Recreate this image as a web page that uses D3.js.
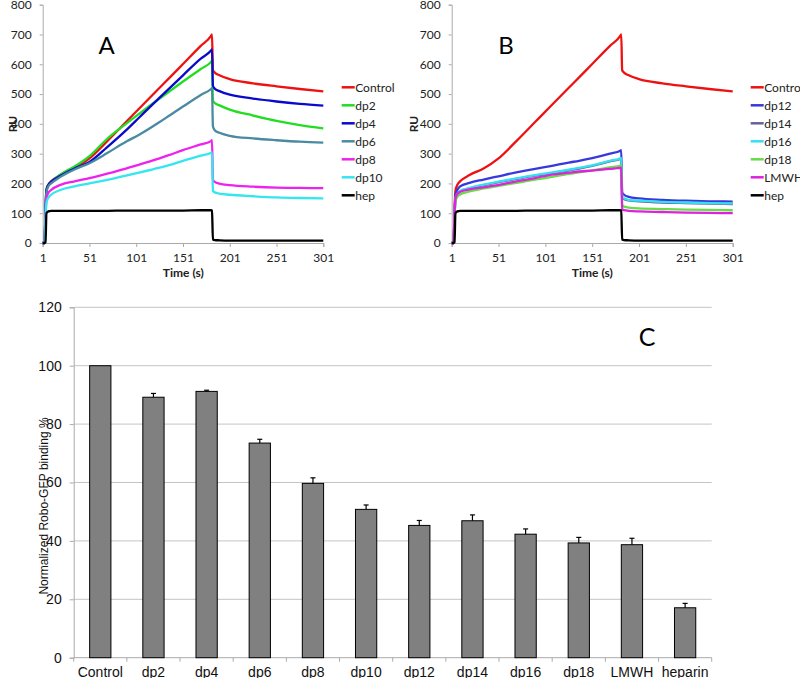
<!DOCTYPE html>
<html><head><meta charset="utf-8">
<script src="https://cdn.jsdelivr.net/npm/d3@7/dist/d3.min.js"></script>
<style>body{margin:0;background:#fff}svg{display:block}</style>
</head><body><svg id="c" width="800" height="678"></svg>
<script>
// ---------- SPR sensorgram data (time in s, response in RU) ----------
const times = [1,3,4,5,7,10,20,35,51,70,90,105,126,137,151,170,181,182,183,185,190,201,226,251,276,301];
const controlRU = [0,0,110,175,195,207,228,250,284,342,406,454,521,556,601,662,695,700,580,572,563,550,536,526,517,509];
const dp2RU  = [0,0,110,178,195,205,230,257,292,350,400,436,485,510,542,584,608,612,478,470,462,448,428,410,396,385];
const dp4RU  = [0,0,110,178,195,205,226,250,272,322,378,424,488,521,563,619,646,650,528,518,510,498,485,475,467,461];
const dp6RU  = [0,0,105,170,190,200,222,247,268,302,340,365,406,429,458,497,517,520,392,378,370,360,351,345,340,337];
const dp8RU  = [0,0,90,150,168,178,195,207,218,233,250,264,284,296,312,331,342,345,212,205,199,194,189,186,185,184];
const dp10RU = [0,0,80,135,152,162,178,190,200,212,226,237,253,262,276,293,303,305,175,170,166,162,157,153,151,150];
const hepRU  = [0,0,2,100,106,108,108,108,108,108,109,109,109,109,109,110,110,109,12,10,9,8,8,8,8,8];
const dp12RU = [0,0,90,160,178,190,202,213,224,237,249,257,270,276,285,300,310,312,170,162,155,150,145,142,140,139];
const dp14RU = [0,0,84,148,163,173,183,194,204,215,226,233,244,250,259,274,282,284,153,148,143,140,136,134,132,131];
const dp16RU = [0,0,85,150,165,175,185,196,206,217,228,235,246,252,261,276,284,286,155,150,145,142,138,136,134,133];
const dp18RU = [0,0,80,140,155,163,173,183,192,202,213,220,232,237,244,254,259,260,127,122,119,116,114,112,111,110];
const lmwhRU = [0,0,95,150,165,172,180,187,195,207,218,228,236,240,243,249,252,253,113,110,108,106,104,102,101,100];
const ruTicks = [0,100,200,300,400,500,600,700,800];
const timeTicks = [1,51,101,151,201,251,301];

// ---------- Bar chart data ----------
const categoriesC = ["Control","dp2","dp4","dp6","dp8","dp10","dp12","dp14","dp16","dp18","LMWH","heparin"];
const bindingC = [100,89.2,91.2,73.5,59.7,50.8,45.3,46.9,42.3,39.3,38.7,17.1];
const errorC   = [0,1.3,0.4,1.3,1.9,1.5,1.7,2.0,1.8,1.9,2.2,1.5];
const bindingTicks = [0,20,40,60,80,100,120];

const panelA = [
  {name:"Control", values:controlRU, color:"#ee1111"},
  {name:"dp2", values:dp2RU, color:"#22dd22"},
  {name:"dp4", values:dp4RU, color:"#0a0acc"},
  {name:"dp6", values:dp6RU, color:"#4a8ba2"},
  {name:"dp8", values:dp8RU, color:"#ee22ee"},
  {name:"dp10", values:dp10RU, color:"#33e6f0"},
  {name:"hep", values:hepRU, color:"#000000"}
];
const panelB = [
  {name:"Control", values:controlRU, color:"#ee1111"},
  {name:"dp12", values:dp12RU, color:"#3838dd"},
  {name:"dp14", values:dp14RU, color:"#6a5f9e"},
  {name:"dp16", values:dp16RU, color:"#33e0f0"},
  {name:"dp18", values:dp18RU, color:"#66dd44"},
  {name:"LMWH", values:lmwhRU, color:"#dd22dd"},
  {name:"hep", values:hepRU, color:"#000000"}
];

const svg = d3.select("#c");
const FONT_AB = "Lato, 'Open Sans', sans-serif";
const FONT_C = "'Liberation Sans', Arial, sans-serif";

function sprPanel(series, x0, x1, letter, letterX, legendX, titleX, ruX) {
  const x = d3.scaleLinear().domain([1,301]).range([x0, x1]);
  const y = d3.scaleLinear().domain([0,800]).range([243, 4.7]);
  const g = svg.append("g");
  const ya = g.append("g").attr("transform", `translate(${x0},0)`)
    .call(d3.axisLeft(y).tickValues(ruTicks).tickSize(3).tickPadding(8));
  const xa = g.append("g").attr("transform", `translate(0,${y(0)})`)
    .call(d3.axisBottom(x).tickValues(timeTicks).tickSize(4).tickPadding(6));
  [ya, xa].forEach(a => {
    a.select(".domain").attr("stroke", "#aaaaaa");
    a.selectAll(".tick line").attr("stroke", "#aaaaaa");
    a.selectAll("text").attr("font-family", FONT_AB).attr("font-size", 12).attr("fill", "#222");
  });
  const line = d3.line().x((d,i) => x(times[i])).y(d => y(d)).curve(d3.curveMonotoneX);
  series.forEach(s => {
    g.append("path").attr("d", line(s.values)).attr("fill","none")
      .attr("stroke", s.color).attr("stroke-width", 2.3).attr("stroke-linejoin","round");
  });
  series.forEach((s, i) => {
    const ly = 87.3 + i * 18;
    g.append("line").attr("x1", legendX).attr("x2", legendX + 13).attr("y1", ly).attr("y2", ly)
      .attr("stroke", s.color).attr("stroke-width", 2.5);
    g.append("text").attr("x", legendX + 13.5).attr("y", ly).attr("dy", "0.35em")
      .attr("font-family", FONT_AB).attr("font-size", 12).attr("fill", "#222").text(s.name);
  });
  g.append("text").attr("x", titleX).attr("y", 277).attr("text-anchor","middle")
    .attr("font-family", FONT_AB).attr("font-size", 12).attr("font-weight","bold").attr("fill","#222").text("Time (s)");
  g.append("text").attr("transform", `translate(${ruX},124) rotate(-90)`).attr("text-anchor","middle")
    .attr("font-family", FONT_AB).attr("font-size", 12).attr("font-weight","bold").attr("fill","#222").text("RU");
  g.append("text").attr("x", letterX).attr("y", 53.5).attr("text-anchor","middle")
    .attr("font-family", FONT_AB).attr("font-size", 24).attr("fill","#000").text(letter);
}

sprPanel(panelA, 42.7, 323.3, "A", 106.7, 341.7, 183.3, 16.5);
sprPanel(panelB, 451.7, 732.7, "B", 506, 750.7, 592.3, 417.5);

// ---------- Panel C bar chart ----------
const xb = d3.scaleBand().domain(categoriesC).range([73.7, 711.7]).paddingInner(0.6).paddingOuter(0.3);
const yb = d3.scaleLinear().domain([0,120]).range([657.7, 307.3]);
const gc = svg.append("g");
gc.append("g").selectAll("line").data(bindingTicks.slice(1)).join("line")
  .attr("x1", 73.7).attr("x2", 711.7).attr("y1", d => yb(d)).attr("y2", d => yb(d))
  .attr("stroke", "#c4c4c4").attr("stroke-width", 1);
const yAxC = gc.append("g").attr("transform", "translate(73.7,0)")
  .call(d3.axisLeft(yb).tickValues(bindingTicks).tickSize(4).tickPadding(8));
yAxC.select(".domain").attr("stroke", "#aaaaaa");
yAxC.selectAll(".tick line").attr("stroke", "#aaaaaa");
yAxC.selectAll("text").attr("font-family", FONT_C).attr("font-size", 14).attr("fill", "#111");
const bounds = d3.range(categoriesC.length + 1).map(i => 73.7 + i * (711.7 - 73.7) / categoriesC.length);
gc.append("line").attr("x1", 73.7).attr("x2", 711.7).attr("y1", yb(0)).attr("y2", yb(0)).attr("stroke", "#aaaaaa");
gc.append("g").selectAll("line").data(bounds).join("line")
  .attr("x1", d => d).attr("x2", d => d).attr("y1", yb(0)).attr("y2", yb(0) + 4).attr("stroke", "#aaaaaa");
gc.append("g").selectAll("text").data(categoriesC).join("text")
  .attr("x", d => xb(d) + xb.bandwidth() / 2).attr("y", 677)
  .attr("text-anchor", "middle").attr("font-family", FONT_C).attr("font-size", 14).attr("fill", "#111")
  .text(d => d);
gc.append("g").selectAll("rect").data(categoriesC).join("rect")
  .attr("x", d => xb(d)).attr("width", xb.bandwidth())
  .attr("y", (d, i) => yb(bindingC[i])).attr("height", (d, i) => yb(0) - yb(bindingC[i]))
  .attr("fill", "#808080").attr("stroke", "#000").attr("stroke-width", 1);
const eg = gc.append("g").attr("stroke", "#000").attr("stroke-width", 1.2);
categoriesC.forEach((c, i) => {
  if (!errorC[i]) return;
  const cx = xb(c) + xb.bandwidth() / 2;
  eg.append("line").attr("x1", cx).attr("x2", cx).attr("y1", yb(bindingC[i])).attr("y2", yb(bindingC[i] + errorC[i]));
  eg.append("line").attr("x1", cx - 2.5).attr("x2", cx + 2.5).attr("y1", yb(bindingC[i] + errorC[i])).attr("y2", yb(bindingC[i] + errorC[i]));
});
gc.append("text").attr("transform", "translate(48,506) rotate(-90)").attr("text-anchor", "middle")
  .attr("font-family", FONT_C).attr("font-size", 12).attr("fill", "#111").text("Normalized Robo-GFP binding %");
gc.append("text").attr("x", 647).attr("y", 346).attr("text-anchor", "middle")
  .attr("font-family", FONT_AB).attr("font-size", 25).attr("fill", "#000").text("C");
</script></body></html>
